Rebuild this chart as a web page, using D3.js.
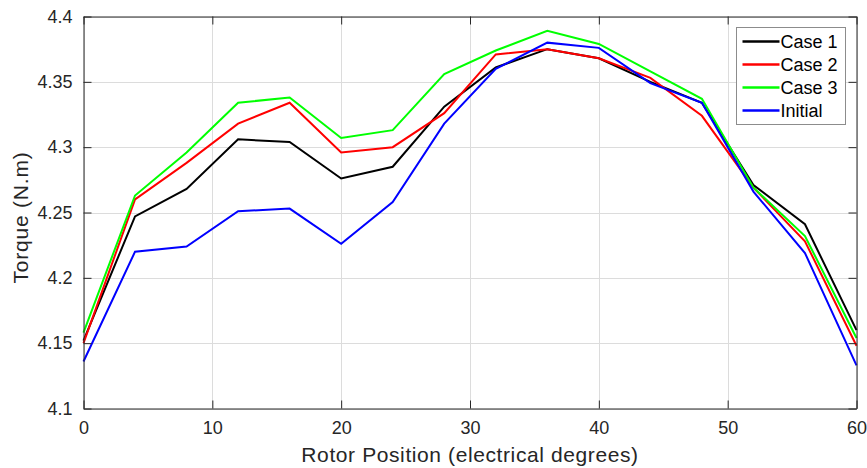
<!DOCTYPE html>
<html>
<head>
<meta charset="utf-8">
<script src="https://cdn.jsdelivr.net/npm/d3@7"></script>
<style>
  html, body { margin: 0; padding: 0; background: #fff; }
  svg { display: block; font-family: "Liberation Sans", Arial, Helvetica, sans-serif; }
</style>
</head>
<body>
<svg id="chart" width="867" height="468"></svg>
<script>
// Rotor position samples (electrical degrees)
const rotorPosition = [0, 4, 8, 12, 16, 20, 24, 28, 32, 36, 40, 44, 48, 52, 56, 60];

// Torque per design case (N.m)
const case1   = [4.152, 4.247, 4.268, 4.306, 4.304, 4.276, 4.285, 4.331, 4.361, 4.375, 4.368, 4.350, 4.334, 4.271, 4.241, 4.160];
const case2   = [4.150, 4.260, 4.288, 4.318, 4.334, 4.296, 4.300, 4.326, 4.371, 4.375, 4.368, 4.353, 4.324, 4.269, 4.228, 4.148];
const case3   = [4.158, 4.263, 4.296, 4.334, 4.338, 4.307, 4.313, 4.356, 4.374, 4.389, 4.379, 4.358, 4.337, 4.269, 4.232, 4.154];
const initial = [4.136, 4.220, 4.224, 4.251, 4.253, 4.226, 4.258, 4.318, 4.360, 4.380, 4.376, 4.349, 4.334, 4.266, 4.219, 4.133];

const seriesNames  = ["Case 1", "Case 2", "Case 3", "Initial"];
const seriesColors = ["#000000", "#ff0000", "#00ff00", "#0000ff"];

const xTicks = [0, 10, 20, 30, 40, 50, 60];
const yTicks = [4.1, 4.15, 4.2, 4.25, 4.3, 4.35, 4.4];
const yTickLabels = ["4.1", "4.15", "4.2", "4.25", "4.3", "4.35", "4.4"];

const xLabel = "Rotor Position (electrical degrees)";
const yLabel = "Torque (N.m)";

const series = [case1, case2, case3, initial].map((vals, i) => ({
  name: seriesNames[i],
  color: seriesColors[i],
  values: vals.map((v, j) => ({ x: rotorPosition[j], y: v }))
}));

const svg = d3.select("#chart");
const plot = { left: 83.5, right: 856.5, top: 16.5, bottom: 408.5 };
const axisColor = "#262626";

const x = d3.scaleLinear().domain([0, 60]).range([plot.left, plot.right]);
const y = d3.scaleLinear().domain([4.1, 4.4]).range([plot.bottom, plot.top]);

// Grid
const grid = svg.append("g");
grid.selectAll("line.gx").data(xTicks).join("line")
  .attr("x1", d => Math.round(x(d)) + 0.5).attr("x2", d => Math.round(x(d)) + 0.5)
  .attr("y1", plot.top).attr("y2", plot.bottom)
  .attr("stroke", "#dcdcdc").attr("stroke-width", 1);
grid.selectAll("line.gy").data(yTicks).join("line")
  .attr("y1", d => Math.round(y(d)) + 0.5).attr("y2", d => Math.round(y(d)) + 0.5)
  .attr("x1", plot.left).attr("x2", plot.right)
  .attr("stroke", "#dcdcdc").attr("stroke-width", 1);

// Data lines
const line = d3.line().x(d => x(d.x)).y(d => y(d.y));
svg.append("g").selectAll("path").data(series).join("path")
  .attr("d", d => line(d.values))
  .attr("fill", "none")
  .attr("stroke", d => d.color)
  .attr("stroke-width", 2)
  .attr("stroke-linejoin", "miter");

// Axes (box with inward ticks on all four sides)
const tickLen = 8;
const fmt = d => yTickLabels[yTicks.indexOf(d)];

const xAxisB = d3.axisBottom(x).tickValues(xTicks).tickSizeInner(-tickLen).tickSizeOuter(0).tickPadding(13);
const xAxisT = d3.axisTop(x).tickValues(xTicks).tickSizeInner(-tickLen).tickSizeOuter(0).tickFormat("");
const yAxisL = d3.axisLeft(y).tickValues(yTicks).tickSizeInner(-tickLen).tickSizeOuter(0).tickPadding(11).tickFormat(fmt);
const yAxisR = d3.axisRight(y).tickValues(yTicks).tickSizeInner(-tickLen).tickSizeOuter(0).tickFormat("");

function styleAxis(g) {
  g.select(".domain").attr("stroke", axisColor).attr("stroke-width", 1);
  g.selectAll(".tick line").attr("stroke", axisColor).attr("stroke-width", 1);
  g.selectAll(".tick text").attr("fill", axisColor)
    .style("font-size", "18px")
    .style("font-family", "'Liberation Sans', Arial, Helvetica, sans-serif");
}

svg.append("g").attr("transform", `translate(0,${plot.bottom})`).call(xAxisB).call(styleAxis);
svg.append("g").attr("transform", `translate(0,${plot.top})`).call(xAxisT).call(styleAxis);
svg.append("g").attr("transform", `translate(${plot.left},0)`).call(yAxisL).call(styleAxis);
svg.append("g").attr("transform", `translate(${plot.right},0)`).call(yAxisR).call(styleAxis);

// Axis titles
svg.append("text")
  .attr("x", (plot.left + plot.right) / 2)
  .attr("y", 462)
  .attr("text-anchor", "middle")
  .attr("fill", axisColor)
  .style("font-size", "21px")
  .style("letter-spacing", "0.6px")
  .text(xLabel);

svg.append("text")
  .attr("transform", `translate(27.5,${(plot.top + plot.bottom) / 2 + 5}) rotate(-90)`)
  .attr("text-anchor", "middle")
  .attr("fill", axisColor)
  .style("font-size", "21px")
  .style("letter-spacing", "0.8px")
  .text(yLabel);

// Legend
const lg = svg.append("g").attr("transform", "translate(736.5,27.5)");
lg.append("rect")
  .attr("width", 109).attr("height", 97)
  .attr("fill", "#fff").attr("stroke", "#8c8c8c").attr("stroke-width", 1);
const rows = lg.selectAll("g.row").data(series).join("g")
  .attr("transform", (d, i) => `translate(0,${14 + i * 23})`);
rows.append("line")
  .attr("x1", 6).attr("x2", 43).attr("y1", 0).attr("y2", 0)
  .attr("stroke", d => d.color).attr("stroke-width", 2.5);
rows.append("text")
  .attr("x", 44).attr("y", 6.5)
  .attr("fill", "#000")
  .style("font-size", "18px")
  .text(d => d.name);
</script>
</body>
</html>
